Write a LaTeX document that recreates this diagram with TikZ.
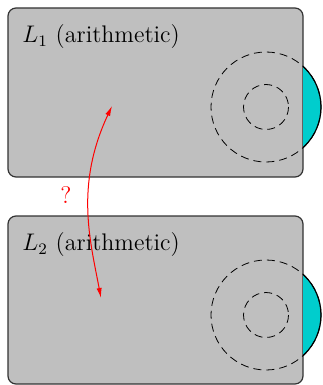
\documentclass[tikz,border=0pt]{standalone}
\usepackage{amsmath,amssymb}
\usetikzlibrary{arrows.meta}
\definecolor{panelgray}{RGB}{191,191,191}
\definecolor{diskcyan}{RGB}{0,205,205}

\begin{document}
\begin{tikzpicture}[x=0.5pt, y=-0.5pt,
    panel/.style={fill=panelgray, draw=black!80, line width=0.6pt, rounded corners=4pt},
    ring/.style={line width=0.4pt, dash pattern=on 4pt off 2.5pt},
    link/.style={red, line width=0.5pt, {Latex[length=5pt,width=2.6pt]}-{Latex[length=5pt,width=2.6pt]}}]
  \useasboundingbox (0,0) rectangle (322,385);
  \foreach \k/\t/\b in {1/8/177, 2/216/384} {
    \draw[panel] (8,\t) rectangle (303,\b);
    \begin{scope}
      \clip (303,\t) rectangle (330,\b);
      \fill[diskcyan] (266,\t+99) circle (55);
      \draw[line width=0.6pt] (266,\t+99) circle (55);
    \end{scope}
    \draw[ring] (266,\t+99) circle (55);
    \draw[ring] (266,\t+99) circle (22.5);
    \node[anchor=west, inner sep=0pt, font=\large] (lbl\k) at (22,\t+29) {$L_\k$ (arithmetic)};
  }
  % the question between the two layers
  \coordinate (upTip) at (112,106);
  \coordinate (downTip) at (101,298);
  \draw[link] (upTip) .. controls (75,185) and (90,240) .. (downTip);
  \node[red, font=\large] (qmark) at (66,195) {?};
\end{tikzpicture}
\end{document}
